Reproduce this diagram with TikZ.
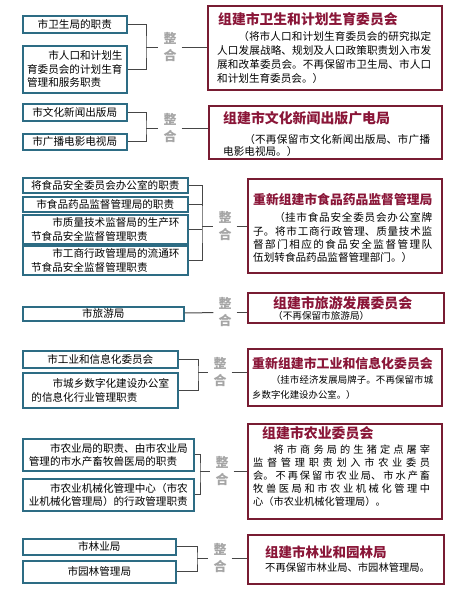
\documentclass[tikz,border=0pt]{standalone}
\usepackage{fontspec}
\setmainfont{Noto Sans CJK SC}
\usetikzlibrary{positioning}
\XeTeXlinebreaklocale "zh"
\XeTeXlinebreakskip=0pt plus 6pt
\definecolor{lblue}{RGB}{45,108,132}
\definecolor{rred}{RGB}{120,28,50}
\definecolor{rtext}{RGB}{138,22,56}
\definecolor{mgray}{RGB}{165,165,165}
\definecolor{lgray}{RGB}{70,70,70}

\begin{document}
\begin{tikzpicture}[
  x=1pt, y=-1pt,
  lbox/.style={rectangle, draw=lblue, line width=1.6pt, anchor=north west,
    inner sep=0pt, align=center, font=\fontsize{10.6}{13.5}\selectfont},
  rbox/.style={rectangle, draw=rred, line width=2.2pt, anchor=north west,
    inner sep=0pt},
  rtitle/.style={anchor=west, inner sep=0pt, text=rtext,
    font=\bfseries\fontsize{#1}{#1}\selectfont},
  rtitle/.default=13.8,
  rbody/.style={anchor=north west, inner sep=0pt, align=justify},
  merge/.style={align=center, inner xsep=5pt, inner ysep=1pt, text=mgray,
    font=\bfseries\fontsize{13}{17}\selectfont},
  link/.style={draw=lgray, line width=1pt}
]
  \useasboundingbox (0,0) rectangle (457,595);

  % left boxes
  \node[lbox, minimum width=104pt, minimum height=17pt] (wei) at (22,15) {市卫生局的职责};
  \node[lbox, minimum width=104pt, minimum height=47pt, align=left] (rkj) at (22,45)
    {\hspace*{2em}市人口和计划生\\育委员会的计划生育\\管理和服务职责};
  \node[lbox, minimum width=104pt, minimum height=17pt] (wh) at (22,103) {市文化新闻出版局};
  \node[lbox, minimum width=104pt, minimum height=16pt] (gd) at (22,133) {市广播电影电视局};
  \node[lbox, minimum width=165pt, minimum height=15pt] (spaq) at (22,177) {将食品安全委员会办公室的职责};
  \node[lbox, minimum width=165pt, minimum height=15pt] (yj) at (22,196) {市食品药品监督管理局的职责};
  \node[lbox, minimum width=165pt, minimum height=29pt, align=left] (zj) at (22,214)
    {\hspace*{2em}市质量技术监督局的生产环\\节食品安全监督管理职责};
  \node[lbox, minimum width=165pt, minimum height=29pt, align=left] (gs) at (22,245)
    {\hspace*{2em}市工商行政管理局的流通环\\节食品安全监督管理职责};
  \node[lbox, minimum width=161pt, minimum height=14pt] (ly) at (22,306) {市旅游局};
  \node[lbox, minimum width=155pt, minimum height=17pt] (gx) at (22,350) {市工业和信息化委员会};
  \node[lbox, minimum width=155pt, minimum height=35pt, align=left] (cx) at (22,372)
    {\hspace*{2em}市城乡数字化建设办公室\\的信息化行业管理职责};
  \node[lbox, minimum width=171pt, minimum height=32pt, align=left] (ny) at (22,438)
    {\hspace*{2em}市农业局的职责、由市农业局\\管理的市水产畜牧兽医局的职责};
  \node[lbox, minimum width=171pt, minimum height=32pt, align=left] (nj) at (22,478)
    {\hspace*{2em}市农业机械化管理中心（市农\\业机械化管理局）的行政管理职责};
  \node[lbox, minimum width=153pt, minimum height=16pt] (lyj) at (22,538) {市林业局};
  \node[lbox, minimum width=153pt, minimum height=22pt] (yl) at (22,560) {市园林管理局};

  % right boxes
  \node[rbox, minimum width=234pt, minimum height=84pt] (r1) at (207,5) {};
  \node[rtitle] (r1t) at (218,19) {组建市卫生和计划生育委员会};
  \node[rbody, text width=214pt, font=\fontsize{10.6}{14}\selectfont] (r1b) at (217,31.7)
    {\hspace*{2em}（将市人口和计划生育委员会的研究拟定\linebreak 人口发展战略、规划及人口政策职责划入市发\linebreak 展和改革委员会。不再保留市卫生局、市人口\linebreak 和计划生育委员会。）};

  \node[rbox, minimum width=233pt, minimum height=53pt] (r2) at (208,105) {};
  \node[rtitle=13.9] (r2t) at (223,118) {组建市文化新闻出版广电局};
  \node[rbody, text width=207pt, font=\fontsize{10.6}{12}\selectfont] (r2b) at (223,134.7)
    {\hspace*{2em}（不再保留市文化新闻出版局、市广播\linebreak 电影电视局。）};

  \node[rbox, minimum width=194pt, minimum height=94pt] (r3) at (247,178) {};
  \node[rtitle=12.8] (r3t) at (253,200) {重新组建市食品药品监督管理局};
  \node[rbody, text width=179pt, font=\fontsize{10.6}{13.3}\selectfont] (r3b) at (253,212.7)
    {\hspace*{2em}（挂市食品安全委员会办公室牌\linebreak 子。将市工商行政管理、质量技术监\linebreak 督部门相应的食品安全监督管理队\linebreak 伍划转食品药品监督管理部门。）};

  \node[rbox, minimum width=196pt, minimum height=30pt] (r4) at (247,292) {};
  \node[rtitle=13.9] (r4t) at (273,303) {组建市旅游发展委员会};
  \node[rbody, text width=160pt, font=\fontsize{9.6}{12}\selectfont] (r4b) at (273,311.2)
    {（不再保留市旅游局）};

  \node[rbox, minimum width=194pt, minimum height=57pt] (r5) at (247,348) {};
  \node[rtitle=12.9] (r5t) at (252,364) {重新组建市工业和信息化委员会};
  \node[rbody, text width=181pt, font=\fontsize{9.4}{15}\selectfont] (r5b) at (252,375.3)
    {\hspace*{2em}（挂市经济发展局牌子。不再保留市城\linebreak 乡数字化建设办公室。）};

  \node[rbox, minimum width=194pt, minimum height=95pt] (r6) at (247,423) {};
  \node[rtitle=13.9] (r6t) at (262,433) {组建市农业委员会};
  \node[rbody, text width=177pt, font=\fontsize{10.2}{13}\selectfont] (r6b) at (253,444.9)
    {\hspace*{2em}将市商务局的生猪定点屠宰\linebreak 监督管理职责划入市农业委员\linebreak 会。不再保留市农业局、市水产畜\linebreak 牧兽医局和市农业机械化管理中\linebreak 心（市农业机械化管理局）。};

  \node[rbox, minimum width=196pt, minimum height=49pt] (r7) at (247,534) {};
  \node[rtitle=13.5] (r7t) at (265,552) {组建市林业和园林局};
  \node[rbody, text width=170pt, font=\fontsize{10.3}{13}\selectfont] (r7b) at (265,562.9)
    {不再保留市林业局、市园林管理局。};

  % merge labels
  \node[merge] (m1) at (170,47) {整\\合};
  \node[merge] (m2) at (170,128) {整\\合};
  \node[merge] (m3) at (225,226) {整\\合};
  \node[merge] (m4) at (225,312.5) {整\\合};
  \node[merge] (m5) at (220,372) {整\\合};
  \node[merge] (m6) at (222,471) {整\\合};
  \node[merge] (m7) at (220,558) {整\\合};

  \coordinate (j1) at (146,47);
  \coordinate (j2) at (146,128);
  \coordinate (j3) at (202,226);
  \coordinate (j5) at (198,372);
  \coordinate (j6) at (200,471);
  \coordinate (j7) at (197,558);

  % connectors
  \draw[link] (wei.east) -| (j1) |- (rkj.east);
  \draw[link] (j1) -- (m1);
  \draw[link] (m1) -- (m1 -| r1.west);

  \draw[link] (wh.east) -| (j2) |- (gd.east);
  \draw[link] (j2) -- (m2);
  \draw[link] (m2) -- (m2 -| r2.west);

  \draw[link] (spaq.east) -| (j3) |- (gs.east);
  \draw[link] (yj.east) -- (yj.east -| j3);
  \draw[link] (zj.east) -- (zj.east -| j3);
  \draw[link] (j3) -- (m3);
  \draw[link] (m3) -- (m3 -| r3.west);

  \draw[link] (ly) -- (m4);
  \draw[link] (m4) -- (m4 -| r4.west);

  \draw[link] (gx.east) -| (j5) |- (cx.east);
  \draw[link] (j5) -- (m5);
  \draw[link] (m5) -- (m5 -| r5.west);

  \draw[link] (ny.east) -| (j6) |- (nj.east);
  \draw[link] (j6) -- (m6);
  \draw[link] (m6) -- (m6 -| r6.west);

  \draw[link] (lyj.east) -| (j7) |- (yl.east);
  \draw[link] (j7) -- (m7);
  \draw[link] (m7) -- (m7 -| r7.west);
\end{tikzpicture}
\end{document}
